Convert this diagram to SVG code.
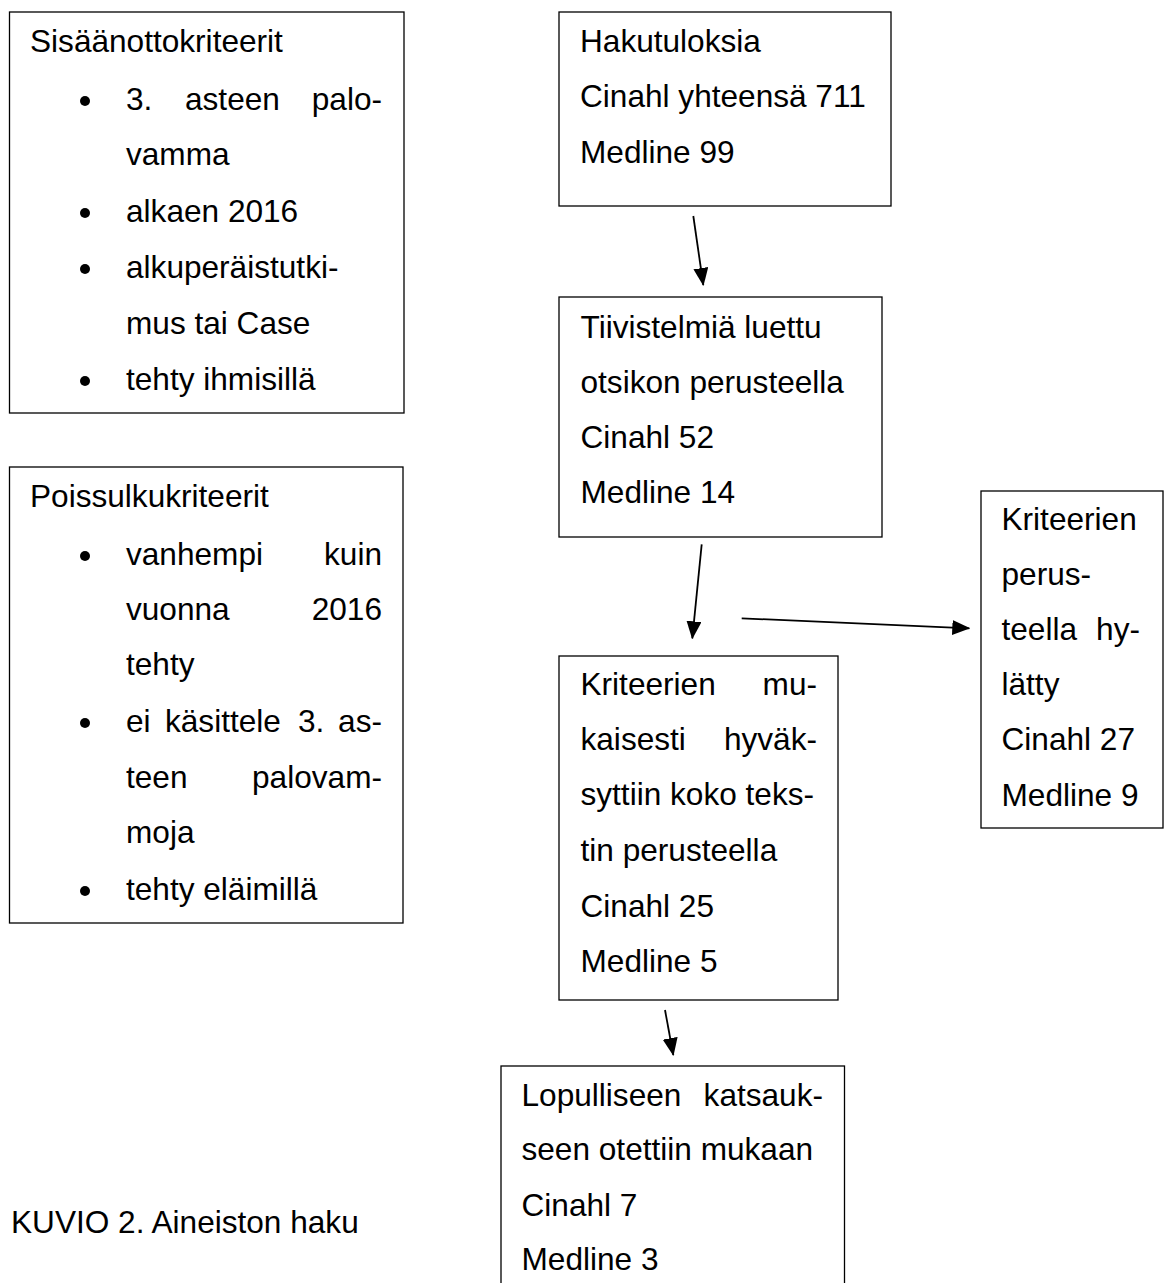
<svg xmlns="http://www.w3.org/2000/svg" width="1169" height="1283" viewBox="0 0 1169 1283">
<style>
text{font-family:"Liberation Sans",Arial,sans-serif;font-size:31.6px;fill:#000}
.e{text-anchor:end}
.box{fill:#fff;stroke:#000;stroke-width:1.3}
.con{stroke:#000;stroke-width:1.8;fill:none;marker-end:url(#ah)}
.b{fill:#000}
</style>
<defs>
<marker id="ah" viewBox="0 0 18 15" refX="17" refY="7.5" markerWidth="18" markerHeight="15" markerUnits="userSpaceOnUse" orient="auto">
<path d="M0,0 L18,7.5 L0,15 z" fill="#000"/>
</marker>
</defs>
<rect width="1169" height="1283" fill="#fff"/>

<g id="sisaanotto">
<rect class="box" x="9.5" y="12" width="394.5" height="401"/>
<text x="30" y="52">Sisäänottokriteerit</text>
<circle class="b" cx="85" cy="101" r="5"/>
<text x="126" y="110">3.</text><text x="185" y="110">asteen</text><text class="e" x="382" y="110">palo-</text>
<text x="126" y="165">vamma</text>
<circle class="b" cx="85" cy="213" r="5"/>
<text x="126" y="222">alkaen 2016</text>
<circle class="b" cx="85" cy="269" r="5"/>
<text x="126" y="278">alkuperäistutki-</text>
<text x="126" y="334">mus tai Case</text>
<circle class="b" cx="85" cy="381" r="5"/>
<text x="126" y="390">tehty ihmisillä</text>
</g>

<g id="poissulku">
<rect class="box" x="9.5" y="467" width="393.5" height="456"/>
<text x="30" y="507">Poissulkukriteerit</text>
<circle class="b" cx="85" cy="556" r="5"/>
<text x="126" y="565">vanhempi</text><text class="e" x="382" y="565">kuin</text>
<text x="126" y="620">vuonna</text><text class="e" x="382" y="620">2016</text>
<text x="126" y="675">tehty</text>
<circle class="b" cx="85" cy="723" r="5"/>
<text x="126" y="732">ei</text><text x="165" y="732">käsittele</text><text x="298" y="732">3.</text><text class="e" x="382" y="732">as-</text>
<text x="126" y="788">teen</text><text class="e" x="382" y="788">palovam-</text>
<text x="126" y="843">moja</text>
<circle class="b" cx="85" cy="891" r="5"/>
<text x="126" y="900">tehty eläimillä</text>
</g>

<g id="hakutuloksia">
<rect class="box" x="559" y="12" width="332" height="194"/>
<text x="580" y="52">Hakutuloksia</text>
<text x="580" y="107">Cinahl yhteensä 711</text>
<text x="580" y="163">Medline 99</text>
</g>

<g id="tiivistelmia">
<rect class="box" x="559" y="297" width="323" height="240"/>
<text x="580.5" y="338">Tiivistelmiä luettu</text>
<text x="580.5" y="393">otsikon perusteella</text>
<text x="580.5" y="448">Cinahl 52</text>
<text x="580.5" y="503">Medline 14</text>
</g>

<g id="hyvaksyttiin">
<rect class="box" x="559" y="656" width="279" height="344"/>
<text x="580.5" y="695">Kriteerien</text><text class="e" x="817" y="695">mu-</text>
<text x="580.5" y="750">kaisesti</text><text class="e" x="817" y="750">hyväk-</text>
<text x="580.5" y="805">syttiin koko teks-</text>
<text x="580.5" y="861">tin perusteella</text>
<text x="580.5" y="917">Cinahl 25</text>
<text x="580.5" y="972">Medline 5</text>
</g>

<g id="hylatty">
<rect class="box" x="981" y="491" width="182" height="337"/>
<text x="1001.5" y="530">Kriteerien</text>
<text x="1001.5" y="585">perus-</text>
<text x="1001.5" y="640">teella</text><text class="e" x="1140" y="640">hy-</text>
<text x="1001.5" y="695">lätty</text>
<text x="1001.5" y="750">Cinahl 27</text>
<text x="1001.5" y="806">Medline 9</text>
</g>

<g id="lopullinen">
<rect class="box" x="501" y="1066" width="343.5" height="240"/>
<text x="521.5" y="1106">Lopulliseen</text><text class="e" x="823" y="1106">katsauk-</text>
<text x="521.5" y="1160">seen otettiin mukaan</text>
<text x="521.5" y="1216">Cinahl 7</text>
<text x="521.5" y="1270">Medline 3</text>
</g>

<g id="caption">
<text x="11" y="1233">KUVIO 2. Aineiston haku</text>
</g>

<g id="connectors">
<line class="con" x1="693.3" y1="216" x2="703.3" y2="285"/>
<line class="con" x1="701.7" y1="544.3" x2="692.3" y2="638.3"/>
<line class="con" x1="741.7" y1="618.3" x2="969.3" y2="628.3"/>
<line class="con" x1="665" y1="1010" x2="673.3" y2="1055"/>
</g>
</svg>
